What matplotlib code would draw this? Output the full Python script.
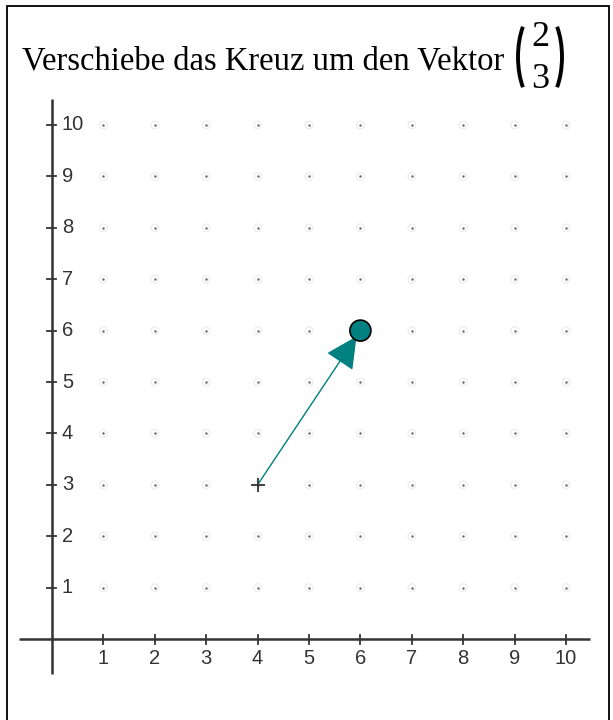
import matplotlib
matplotlib.use("Agg")
import matplotlib.pyplot as plt
from matplotlib.patches import FancyArrowPatch, Circle, Rectangle, Arc
import numpy as np

# ---- data ----
x_ticks = [1, 2, 3, 4, 5, 6, 7, 8, 9, 10]
y_ticks = [1, 2, 3, 4, 5, 6, 7, 8, 9, 10]
x_labels = ["1", "2", "3", "4", "5", "6", "7", "8", "9", "10"]
y_labels = ["1", "2", "3", "4", "5", "6", "7", "8", "9", "10"]
start_point = (4, 3)
vector = (2, 3)
title = "Verschiebe das Kreuz um den Vektor"
vec_labels = ["2", "3"]

W, H = 613, 720
fig = plt.figure(figsize=(W / 100, H / 100), dpi=100)

# pixel geometry (origin and unit size in pixels)
ox, oy, unit = 52.0, 639.0, 51.4
xmin, xmax = -ox / unit, (W - ox) / unit
ymin, ymax = -(H - oy) / unit, oy / unit
ax = fig.add_axes([0, 0, 1, 1])
ax.set_xlim(xmin, xmax)
ax.set_ylim(ymin, ymax)
ax.axis("off")

def px2x(p):
    return (p - ox) / unit

def py2y(p):
    return (oy - p) / unit

# border
fig.patches.append(Rectangle((7 / W, -0.01), (609 - 7) / W, (H - 6) / H + 0.01,
                             transform=fig.transFigure, fill=False,
                             edgecolor="black", linewidth=1.3))

axis_color = "#333333"
# axes lines
ax.plot([px2x(19), px2x(590)], [0, 0], color=axis_color, lw=1.8, solid_capstyle="butt")
ax.plot([0, 0], [py2y(674), py2y(99)], color=axis_color, lw=1.8, solid_capstyle="butt")

tl = 4.5 / unit
for xv, lab in zip(x_ticks, x_labels):
    ax.plot([xv, xv], [-tl, tl], color=axis_color, lw=1.3)
    ax.text(xv, -20 / unit, lab, ha="center", va="center", fontsize=14.5,
            family="Liberation Sans", color="#333333")
for yv, lab in zip(y_ticks, y_labels):
    ax.plot([-tl, tl], [yv, yv], color=axis_color, lw=1.3)
    ax.text(10 / unit, yv, lab, ha="left", va="center", fontsize=14.5,
            family="Liberation Sans", color="#333333")

# grid dots
gx, gy = np.meshgrid(x_ticks, y_ticks)
ax.scatter(gx.ravel(), gy.ravel(), s=30, facecolors="none", edgecolors="#eeeeee",
           linewidths=1.0, zorder=1)
ax.scatter(gx.ravel(), gy.ravel(), s=3, color="#666666", linewidths=0, zorder=2)

# arrow
teal = "#008080"
end = (start_point[0] + vector[0], start_point[1] + vector[1])
arrow = FancyArrowPatch(start_point, end, arrowstyle="-|>,head_length=20,head_width=10",
                        mutation_scale=1, color=teal, lw=1.0, shrinkA=0, shrinkB=5,
                        zorder=3)
ax.add_patch(arrow)
ax.add_patch(Circle(end, 10.5 / unit, facecolor=teal, edgecolor="black", lw=1.2, zorder=4))
ax.plot([start_point[0]], [start_point[1]], marker="+", markersize=10,
        color="#333333", mew=1.3, zorder=5)

# title
fig.text(22 / W, 1 - 61 / H, title, ha="left", va="center", fontsize=23.5,
         family="Liberation Serif", color="black")
fig.text(540 / W, 1 - 38 / H, vec_labels[0], ha="center", va="center", fontsize=26,
         family="Liberation Serif", color="black")
fig.text(540 / W, 1 - 79 / H, vec_labels[1], ha="center", va="center", fontsize=26,
         family="Liberation Serif", color="black")

# parentheses drawn as arcs (pixel coordinates)
fax = fig.add_axes([0, 0, 1, 1], facecolor="none")
fax.set_xlim(0, W)
fax.set_ylim(H, 0)
fax.axis("off")
fax.add_patch(Arc((539, 57), 42, 94, theta1=118, theta2=242, lw=2.8, color="black"))
fax.add_patch(Arc((541, 57), 42, 94, theta1=-62, theta2=62, lw=2.8, color="black"))

fig.savefig("out.png", dpi=100)
